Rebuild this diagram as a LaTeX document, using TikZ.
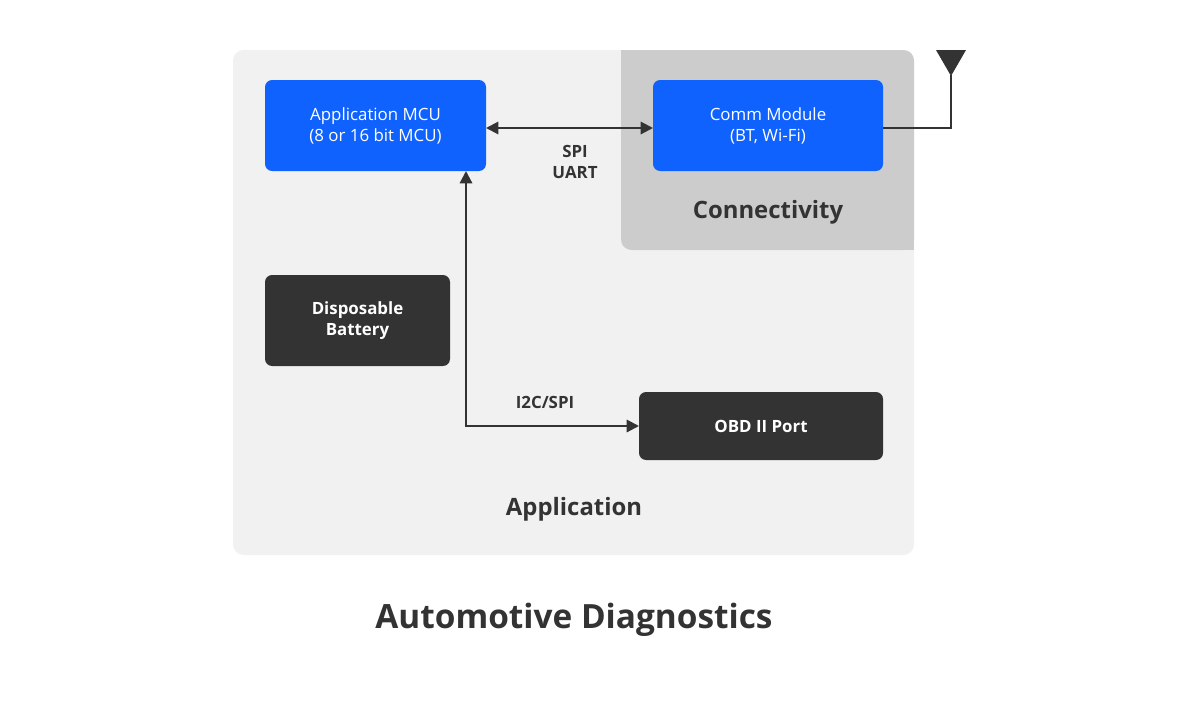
\documentclass[tikz,border=0pt]{standalone}
\usepackage{fontspec}
\setmainfont{Open Sans}
\usetikzlibrary{arrows.meta,positioning}
\definecolor{appbg}{HTML}{F1F1F1}
\definecolor{conbg}{HTML}{CCCCCC}
\definecolor{mcublue}{HTML}{1062FE}
\definecolor{inkdark}{HTML}{333333}
\tikzset{
	blk/.style={text=white, align=center, font=\fontsize{9.6}{12}\selectfont\bfseries},
	bluebox/.style={rounded corners=4pt, fill=mcublue},
	darkbox/.style={rounded corners=4pt, fill=inkdark},
	link/.style={draw=inkdark, line width=1.2pt, {Triangle[length=7pt,width=7pt]}-{Triangle[length=7pt,width=7pt]}},
	lbl/.style={text=inkdark, font=\fontsize{9.6}{12}\selectfont\bfseries, align=center},
}
\begin{document}
\begin{tikzpicture}[x=0.02cm, y=-0.02cm]
	\useasboundingbox (0,0) rectangle (1200,720);
	
	%sfondi
	\fill[appbg, rounded corners=6pt] (233,50) rectangle (914,555);
	\fill[conbg, rounded corners=6pt] (621,50) -- (914,50) -- (914,250) -- (621,250) -- cycle;
	\fill[conbg] (621,50) rectangle (660,60);
	\fill[conbg] (900,240) rectangle (914,250);
	\node[lbl, font=\fontsize{13.6}{16}\selectfont\bfseries] (contxt) at (768,212) {Connectivity};
	\node[lbl, font=\fontsize{13.6}{16}\selectfont\bfseries] (apptxt) at (574,509) {Application};
	
	%blocchi
	\path[bluebox] (265,80) rectangle (486,171);
	\node[blk, font=\fontsize{9.6}{12}\selectfont] (mcu) at (375.5,125.5) {Application MCU\\(8 or 16 bit MCU)};
	\path[bluebox] (653,80) rectangle (883,171);
	\node[blk, font=\fontsize{9.6}{12}\selectfont] (comm) at (768,125.5) {Comm Module\\(BT, Wi-Fi)};
	\path[darkbox] (265,275) rectangle (450,366);
	\node[blk] (bat) at (357.5,320.5) {Disposable\\Battery};
	\path[darkbox] (639,392) rectangle (883,460);
	\node[blk] (obd) at (761,426) {OBD II Port};
	
	%collegamenti
	\coordinate (mcuR) at (486,128);
	\coordinate (commL) at (653,128);
	\coordinate (mcuB) at (466,171);
	\coordinate (bend) at (466,426);
	\coordinate (obdL) at (639,426);
	\draw[link] (mcuR) -- (commL);
	\draw[link] (mcuB) -- (bend) -- (obdL);
	\node[lbl] (spi) at (575,162) {SPI\\UART};
	\node[lbl] (i2c) at (545,402) {I2C/SPI};
	
	%antenna
	\coordinate (commR) at (883,128);
	\coordinate (ant) at (951,75);
	\draw[inkdark, line width=1.2pt] (commR) -- (951,128) -- (ant);
	\fill[inkdark] (936,50) -- (966,50) -- (951,76) -- cycle;
	
	%titolo
	\node[lbl, font=\fontsize{19}{22}\selectfont\bfseries] (title) at (574,620) {Automotive Diagnostics};
\end{tikzpicture}
\end{document}
